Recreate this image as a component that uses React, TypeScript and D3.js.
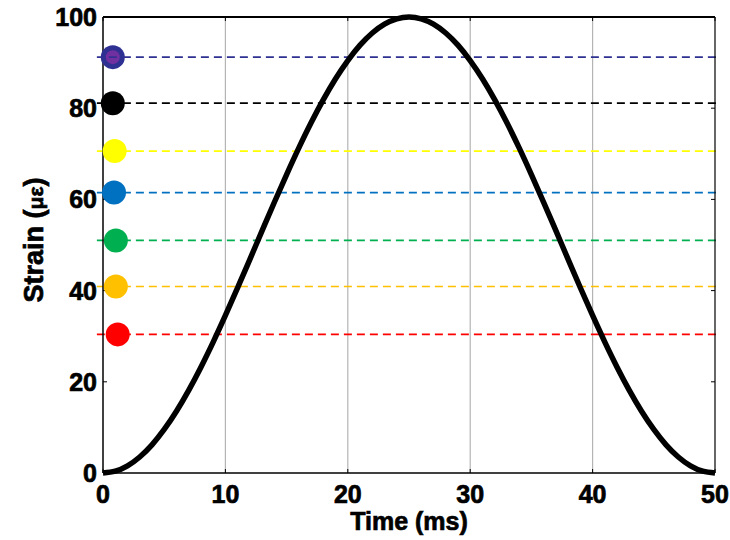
import React from "react";
import * as d3 from "d3";

const timeMs: number[] = d3.range(0, 51);
const strain: number[] = [
  0, 0.39, 1.57, 3.51, 6.18, 9.55, 13.55, 18.13, 23.21, 28.71, 34.55,
  40.63, 46.86, 53.14, 59.37, 65.45, 71.29, 76.79, 81.87, 86.45, 90.45,
  93.82, 96.49, 98.43, 99.61, 100, 99.61, 98.43, 96.49, 93.82, 90.45,
  86.45, 81.87, 76.79, 71.29, 65.45, 59.37, 53.14, 46.86, 40.63, 34.55,
  28.71, 23.21, 18.13, 13.55, 9.55, 6.18, 3.51, 1.57, 0.39, 0,
];

const levelValues: number[] = [91.2, 81.1, 70.6, 61.5, 51.0, 40.9, 30.4];
const levelMarkerX: number[] = [0.8, 0.8, 0.95, 0.9, 1.05, 1.05, 1.2];
const levelColors: string[] = ["#2E3192", "#000000", "#FFFF00", "#0070C0", "#00B050", "#FFC000", "#FF0000"];
const xTicks: number[] = [0, 10, 20, 30, 40, 50];
const yTicks: number[] = [0, 20, 40, 60, 80, 100];

export default function App() {
  const x = d3.scaleLinear().domain([0, 50]).range([103, 715]);
  const y = d3.scaleLinear().domain([0, 100]).range([473, 17]);
  const line = d3
    .line<number>()
    .x((_, i) => x(timeMs[i]))
    .y((d) => y(d))
    .curve(d3.curveMonotoneX);
  const font = "'Liberation Sans', Arial, sans-serif";
  const heavy = { stroke: "#000", strokeWidth: 0.7 };

  return (
    <svg
      width={730}
      height={540}
      style={{ position: "absolute", left: 0, top: 0, background: "#fff" }}
    >
      {/* vertical gridlines */}
      {xTicks.slice(1, -1).map((t) => (
        <line key={"g" + t} x1={x(t)} x2={x(t)} y1={y(0)} y2={y(100)} stroke="#b4b4b4" strokeWidth={1.2} />
      ))}
      {/* dashed level lines */}
      {levelValues.map((v, i) => (
        <line
          key={"l" + i}
          x1={x(-0.5)}
          x2={x(50.25)}
          y1={y(v)}
          y2={y(v)}
          stroke={levelColors[i]}
          strokeWidth={1.7}
          strokeDasharray="8,5"
        />
      ))}
      {/* axes box */}
      <line x1={x(0)} x2={x(50)} y1={y(100)} y2={y(100)} stroke="#000" strokeWidth={2} />
      <line x1={x(0)} x2={x(50)} y1={y(0)} y2={y(0)} stroke="#000" strokeWidth={1.5} />
      <line x1={x(0)} x2={x(0)} y1={y(0)} y2={y(100)} stroke="#000" strokeWidth={1.5} />
      <line x1={x(50)} x2={x(50)} y1={y(0)} y2={y(100)} stroke="#000" strokeWidth={1.2} />
      {/* ticks */}
      {xTicks.map((t) => (
        <g key={"xt" + t}>
          <line x1={x(t)} x2={x(t)} y1={y(0)} y2={y(0) - 4} stroke="#000" strokeWidth={1} />
          <line x1={x(t)} x2={x(t)} y1={y(100)} y2={y(100) + 4} stroke="#000" strokeWidth={1} />
          <text
            x={x(t)}
            y={503}
            textAnchor="middle"
            fontFamily={font}
            fontWeight="bold"
            fontSize={25}
            {...heavy}
          >
            {t}
          </text>
        </g>
      ))}
      {yTicks.map((t) => (
        <g key={"yt" + t}>
          <line x1={x(0)} x2={x(0) + 4} y1={y(t)} y2={y(t)} stroke="#000" strokeWidth={1} />
          <line x1={x(50)} x2={x(50) - 4} y1={y(t)} y2={y(t)} stroke="#000" strokeWidth={1} />
          <text
            x={97}
            y={y(t) + 9}
            textAnchor="end"
            fontFamily={font}
            fontWeight="bold"
            fontSize={25}
            {...heavy}
          >
            {t}
          </text>
        </g>
      ))}
      {/* curve */}
      <path d={line(strain) || ""} fill="none" stroke="#000" strokeWidth={5.5} strokeLinejoin="round" />
      {/* markers */}
      {levelValues.map((v, i) => (
        <g key={"m" + i}>
          <circle cx={x(levelMarkerX[i])} cy={y(v)} r={12} fill={levelColors[i]} />
          {i === 0 && (
            <>
              <circle cx={x(levelMarkerX[i])} cy={y(v)} r={7} fill="#7030A0" />
              <line
                x1={x(levelMarkerX[i]) - 4}
                x2={x(levelMarkerX[i]) + 4}
                y1={y(v)}
                y2={y(v)}
                stroke="#2E3192"
                strokeWidth={1.6}
              />
            </>
          )}
        </g>
      ))}
      {/* axis titles */}
      <text x={409} y={530} textAnchor="middle" fontFamily={font} fontWeight="bold" fontSize={25} {...heavy}>
        Time (ms)
      </text>
      <text
        transform="translate(43,240) rotate(-90)"
        textAnchor="middle"
        fontFamily={font}
        fontWeight="bold"
        fontSize={27}
        {...heavy}
      >
        Strain (<tspan fontSize={21}>με</tspan>)
      </text>
    </svg>
  );
}
